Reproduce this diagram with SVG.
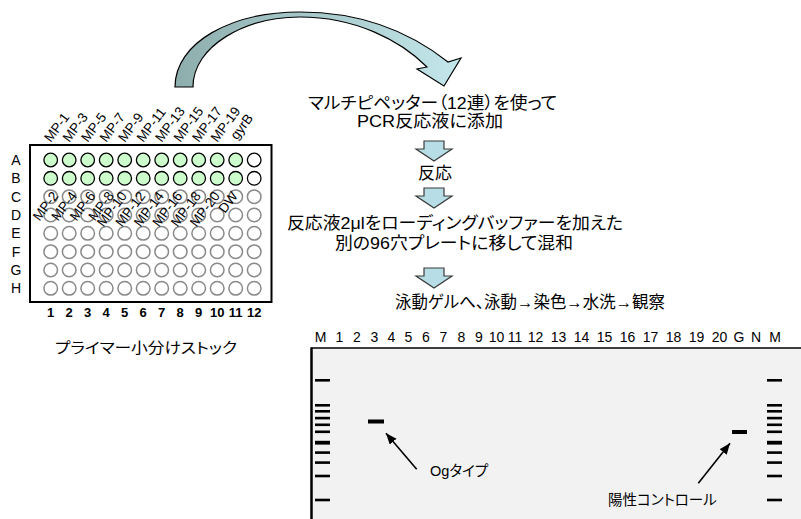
<svg xmlns="http://www.w3.org/2000/svg" width="801" height="519" viewBox="0 0 801 519">
<defs>
<style>
.lat{font-family:"Liberation Sans",Arial,sans-serif;fill:#000}
.jp{font-family:"Liberation Sans","Noto Sans CJK JP",sans-serif;fill:#000;font-feature-settings:"palt"}
.flow{font-size:17px;text-anchor:middle}
.rot{font-size:13.5px}
.row{font-size:14px;text-anchor:middle}
.col{font-size:13px;font-weight:bold;text-anchor:middle}
.lane{font-size:14px;text-anchor:middle}
.wg{fill:#ccffcc;stroke:#000;stroke-width:1.3}
.ww{fill:#fff;stroke:#000;stroke-width:1.3}
.we{fill:#fff;stroke:#8a8a8a;stroke-width:1.5}
.down{fill:#b7dee6;stroke:#3a3a3a;stroke-width:1.2}
.band{fill:#000}
.ptr{stroke:#000;stroke-width:1.6;fill:none;marker-end:url(#ah)}
</style>
<linearGradient id="cg" gradientUnits="userSpaceOnUse" x1="175" y1="0" x2="460" y2="0">
<stop offset="0" stop-color="#8eadad"/>
<stop offset="1" stop-color="#c3e7eb"/>
</linearGradient>
<marker id="ah" markerUnits="userSpaceOnUse" markerWidth="12" markerHeight="10" refX="11" refY="4.5" orient="auto">
<path d="M0,0 L11,4.5 L0,9 Z" fill="#000"/>
</marker>
</defs>

<g id="connectors">
<path id="curved-arrow" d="M175,87 C175,42 232,12 300,12 C360,12 410,32 448,62 L461,58 L444,86 L417,69 L427,67 C400,40 355,17 300,17 C245,17 193,46 193,87 Z" fill="url(#cg)" stroke="#000" stroke-width="1.2"/>
<path id="down1" class="down" d="M424,141 h20 v8 h8 l-18,12 l-18,-12 h8 z"/>
<path id="down2" class="down" d="M424,188 h20 v8 h8 l-18,12 l-18,-12 h8 z"/>
<path id="down3" class="down" d="M424,268 h20 v8 h8 l-18,12 l-18,-12 h8 z"/>
</g>

<g id="plate">
<rect x="30" y="145" width="241.5" height="157" fill="#fff" stroke="#000" stroke-width="2"/>
<g id="row-labels" class="lat row">
<text x="16" y="165">A</text><text x="16" y="183">B</text><text x="16" y="201.5">C</text><text x="16" y="220">D</text>
<text x="16" y="238">E</text><text x="16" y="256.5">F</text><text x="16" y="275">G</text><text x="16" y="293">H</text>
</g>
<g id="col-labels" class="lat col">
<text x="50.7" y="316.5">1</text><text x="69.2" y="316.5">2</text><text x="87.7" y="316.5">3</text><text x="106.2" y="316.5">4</text>
<text x="124.7" y="316.5">5</text><text x="143.2" y="316.5">6</text><text x="161.7" y="316.5">7</text><text x="180.2" y="316.5">8</text>
<text x="198.7" y="316.5">9</text><text x="217.2" y="316.5">10</text><text x="235.7" y="316.5">11</text><text x="254.2" y="316.5">12</text>
</g>
<g id="wells">
<g class="wg">
<circle cx="50.7" cy="160" r="6.8"/><circle cx="69.2" cy="160" r="6.8"/><circle cx="87.7" cy="160" r="6.8"/><circle cx="106.2" cy="160" r="6.8"/><circle cx="124.7" cy="160" r="6.8"/><circle cx="143.2" cy="160" r="6.8"/><circle cx="161.7" cy="160" r="6.8"/><circle cx="180.2" cy="160" r="6.8"/><circle cx="198.7" cy="160" r="6.8"/><circle cx="217.2" cy="160" r="6.8"/><circle cx="235.7" cy="160" r="6.8"/>
<circle cx="50.7" cy="178.3" r="6.8"/><circle cx="69.2" cy="178.3" r="6.8"/><circle cx="87.7" cy="178.3" r="6.8"/><circle cx="106.2" cy="178.3" r="6.8"/><circle cx="124.7" cy="178.3" r="6.8"/><circle cx="143.2" cy="178.3" r="6.8"/><circle cx="161.7" cy="178.3" r="6.8"/><circle cx="180.2" cy="178.3" r="6.8"/><circle cx="198.7" cy="178.3" r="6.8"/><circle cx="217.2" cy="178.3" r="6.8"/><circle cx="235.7" cy="178.3" r="6.8"/>
</g>
<g class="ww"><circle cx="254.2" cy="160" r="6.8"/><circle cx="254.2" cy="178.3" r="6.8"/></g>
<g class="we">
<circle cx="50.7" cy="196.7" r="6.8"/><circle cx="69.2" cy="196.7" r="6.8"/><circle cx="87.7" cy="196.7" r="6.8"/><circle cx="106.2" cy="196.7" r="6.8"/><circle cx="124.7" cy="196.7" r="6.8"/><circle cx="143.2" cy="196.7" r="6.8"/><circle cx="161.7" cy="196.7" r="6.8"/><circle cx="180.2" cy="196.7" r="6.8"/><circle cx="198.7" cy="196.7" r="6.8"/><circle cx="217.2" cy="196.7" r="6.8"/><circle cx="235.7" cy="196.7" r="6.8"/><circle cx="254.2" cy="196.7" r="6.8"/>
<circle cx="50.7" cy="215" r="6.8"/><circle cx="69.2" cy="215" r="6.8"/><circle cx="87.7" cy="215" r="6.8"/><circle cx="106.2" cy="215" r="6.8"/><circle cx="124.7" cy="215" r="6.8"/><circle cx="143.2" cy="215" r="6.8"/><circle cx="161.7" cy="215" r="6.8"/><circle cx="180.2" cy="215" r="6.8"/><circle cx="198.7" cy="215" r="6.8"/><circle cx="217.2" cy="215" r="6.8"/><circle cx="235.7" cy="215" r="6.8"/><circle cx="254.2" cy="215" r="6.8"/>
<circle cx="50.7" cy="233.3" r="6.8"/><circle cx="69.2" cy="233.3" r="6.8"/><circle cx="87.7" cy="233.3" r="6.8"/><circle cx="106.2" cy="233.3" r="6.8"/><circle cx="124.7" cy="233.3" r="6.8"/><circle cx="143.2" cy="233.3" r="6.8"/><circle cx="161.7" cy="233.3" r="6.8"/><circle cx="180.2" cy="233.3" r="6.8"/><circle cx="198.7" cy="233.3" r="6.8"/><circle cx="217.2" cy="233.3" r="6.8"/><circle cx="235.7" cy="233.3" r="6.8"/><circle cx="254.2" cy="233.3" r="6.8"/>
<circle cx="50.7" cy="251.7" r="6.8"/><circle cx="69.2" cy="251.7" r="6.8"/><circle cx="87.7" cy="251.7" r="6.8"/><circle cx="106.2" cy="251.7" r="6.8"/><circle cx="124.7" cy="251.7" r="6.8"/><circle cx="143.2" cy="251.7" r="6.8"/><circle cx="161.7" cy="251.7" r="6.8"/><circle cx="180.2" cy="251.7" r="6.8"/><circle cx="198.7" cy="251.7" r="6.8"/><circle cx="217.2" cy="251.7" r="6.8"/><circle cx="235.7" cy="251.7" r="6.8"/><circle cx="254.2" cy="251.7" r="6.8"/>
<circle cx="50.7" cy="270" r="6.8"/><circle cx="69.2" cy="270" r="6.8"/><circle cx="87.7" cy="270" r="6.8"/><circle cx="106.2" cy="270" r="6.8"/><circle cx="124.7" cy="270" r="6.8"/><circle cx="143.2" cy="270" r="6.8"/><circle cx="161.7" cy="270" r="6.8"/><circle cx="180.2" cy="270" r="6.8"/><circle cx="198.7" cy="270" r="6.8"/><circle cx="217.2" cy="270" r="6.8"/><circle cx="235.7" cy="270" r="6.8"/><circle cx="254.2" cy="270" r="6.8"/>
<circle cx="50.7" cy="288.3" r="6.8"/><circle cx="69.2" cy="288.3" r="6.8"/><circle cx="87.7" cy="288.3" r="6.8"/><circle cx="106.2" cy="288.3" r="6.8"/><circle cx="124.7" cy="288.3" r="6.8"/><circle cx="143.2" cy="288.3" r="6.8"/><circle cx="161.7" cy="288.3" r="6.8"/><circle cx="180.2" cy="288.3" r="6.8"/><circle cx="198.7" cy="288.3" r="6.8"/><circle cx="217.2" cy="288.3" r="6.8"/><circle cx="235.7" cy="288.3" r="6.8"/><circle cx="254.2" cy="288.3" r="6.8"/>
</g>
</g>
<g id="top-labels" class="lat rot">
<text transform="translate(50.7,143) rotate(-53)">MP-1</text>
<text transform="translate(69.2,143) rotate(-53)">MP-3</text>
<text transform="translate(87.7,143) rotate(-53)">MP-5</text>
<text transform="translate(106.2,143) rotate(-53)">MP-7</text>
<text transform="translate(124.7,143) rotate(-53)">MP-9</text>
<text transform="translate(143.2,143) rotate(-53)">MP-11</text>
<text transform="translate(161.7,143) rotate(-53)">MP-13</text>
<text transform="translate(180.2,143) rotate(-53)">MP-15</text>
<text transform="translate(198.7,143) rotate(-53)">MP-17</text>
<text transform="translate(217.2,143) rotate(-53)">MP-19</text>
<text transform="translate(237,140.5) rotate(-53)">gyrB</text>
</g>
<g id="bottom-labels" class="lat rot" text-anchor="end">
<text transform="translate(59,196) rotate(-53)">MP-2</text>
<text transform="translate(77.5,196) rotate(-53)">MP-4</text>
<text transform="translate(96,196) rotate(-53)">MP-6</text>
<text transform="translate(114.5,196) rotate(-53)">MP-8</text>
<text transform="translate(127.5,196) rotate(-53)">MP-10</text>
<text transform="translate(146,196) rotate(-53)">MP-12</text>
<text transform="translate(164.5,196) rotate(-53)">MP-14</text>
<text transform="translate(183,196) rotate(-53)">MP-16</text>
<text transform="translate(201.5,196) rotate(-53)">MP-18</text>
<text transform="translate(220.5,196) rotate(-53)">MP-20</text>
<text transform="translate(238.5,196) rotate(-53)">DW</text>
</g>
<text id="plate-caption" class="jp" x="55" y="353" font-size="15" textLength="182" lengthAdjust="spacingAndGlyphs">プライマー小分けストック</text>
</g>

<g id="steps" class="jp flow">
<text id="step1a" x="432.5" y="108.5" textLength="249" lengthAdjust="spacingAndGlyphs">マルチピペッター（12連）を使って</text>
<text id="step1b" x="430" y="126.5" textLength="146" lengthAdjust="spacingAndGlyphs">PCR反応液に添加</text>
<text id="step2" x="435" y="179" textLength="34" lengthAdjust="spacingAndGlyphs">反応</text>
<text id="step3a" x="455" y="228.5" textLength="336" lengthAdjust="spacingAndGlyphs">反応液2μlをローディングバッファーを加えた</text>
<text id="step3b" x="454" y="248.5" textLength="238" lengthAdjust="spacingAndGlyphs">別の96穴プレートに移して混和</text>
<text id="step4" x="530" y="307.5" textLength="270" lengthAdjust="spacingAndGlyphs">泳動ゲルへ、泳動→染色→水洗→観察</text>
</g>

<g id="gel">
<rect x="311" y="348" width="495" height="180" fill="#f2f2f2"/>
<line x1="311" y1="348" x2="801" y2="348" stroke="#000" stroke-width="1.5"/>
<line x1="311.5" y1="347.5" x2="311.5" y2="519" stroke="#000" stroke-width="2.5"/>
<g id="lane-labels" class="lat lane">
<text x="320.5" y="341.5">M</text><text x="339.5" y="341.5">1</text><text x="357" y="341.5">2</text><text x="374.5" y="341.5">3</text>
<text x="391.5" y="341.5">4</text><text x="408.5" y="341.5">5</text><text x="426" y="341.5">6</text><text x="443.5" y="341.5">7</text>
<text x="461.5" y="341.5">8</text><text x="479" y="341.5">9</text><text x="496.5" y="341.5">10</text><text x="515" y="341.5">11</text>
<text x="535.5" y="341.5">12</text><text x="558.5" y="341.5">13</text><text x="581.5" y="341.5">14</text><text x="604.5" y="341.5">15</text>
<text x="627.5" y="341.5">16</text><text x="650.5" y="341.5">17</text><text x="673.5" y="341.5">18</text><text x="696.5" y="341.5">19</text>
<text x="719.5" y="341.5">20</text><text x="739" y="341.5">G</text><text x="756" y="341.5">N</text><text x="775" y="341.5">M</text>
</g>
<g id="ladder-left" class="band">
<rect x="315" y="379" width="15" height="2.6"/><rect x="315" y="404" width="15" height="2.6"/><rect x="315" y="410" width="15" height="2.6"/>
<rect x="315" y="416.8" width="15" height="2.6"/><rect x="315" y="423.5" width="15" height="2.6"/><rect x="315" y="430.5" width="15" height="2.6"/>
<rect x="315" y="440.8" width="15" height="3.8"/><rect x="315" y="451.3" width="15" height="2.6"/><rect x="315" y="461.3" width="15" height="2.6"/>
<rect x="315" y="474.7" width="15" height="2.6"/><rect x="315" y="498.7" width="15" height="2.6"/>
</g>
<g id="ladder-right" class="band">
<rect x="767" y="379" width="15" height="2.6"/><rect x="767" y="404" width="15" height="2.6"/><rect x="767" y="410" width="15" height="2.6"/>
<rect x="767" y="416.8" width="15" height="2.6"/><rect x="767" y="423.5" width="15" height="2.6"/><rect x="767" y="430.5" width="15" height="2.6"/>
<rect x="767" y="440.8" width="15" height="3.8"/><rect x="767" y="451.3" width="15" height="2.6"/><rect x="767" y="461.3" width="15" height="2.6"/>
<rect x="767" y="474.7" width="15" height="2.6"/><rect x="767" y="498.7" width="15" height="2.6"/>
</g>
<rect id="og-band" class="band" x="368" y="419.5" width="16" height="4"/>
<rect id="pc-band" class="band" x="732" y="430" width="15" height="4"/>
</g>

<g id="gel-pointers">
<line class="ptr" x1="416.7" y1="469.3" x2="386" y2="433.3"/>
<line class="ptr" x1="698.3" y1="483.3" x2="730" y2="443.3"/>
</g>
<text id="og-label" class="jp" x="430" y="475.5" font-size="14.5">Ogタイプ</text>
<text id="pc-label" class="jp" x="608" y="504.5" font-size="14.5">陽性コントロール</text>
</svg>
